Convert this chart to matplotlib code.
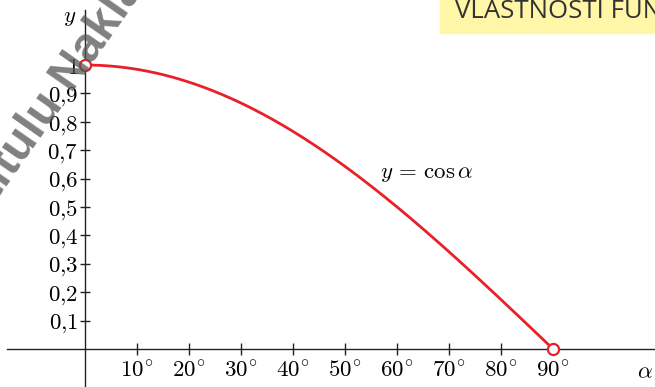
import numpy as np
import matplotlib.pyplot as plt
from matplotlib.patches import Rectangle

plt.rcParams['mathtext.fontset'] = 'cm'

# graph of y = cos(alpha) on 0..90 degrees
alpha_deg = np.linspace(0, 90, 181)
cos_vals = np.cos(np.radians(alpha_deg))

x_ticks = [10, 20, 30, 40, 50, 60, 70, 80, 90]
x_labels = ['$%d^{\\!\\circ}$' % v for v in x_ticks]
y_ticks = [0.1, 0.2, 0.3, 0.4, 0.5, 0.6, 0.7, 0.8, 0.9, 1.0]
y_labels = ['$0{,}1$', '$0{,}2$', '$0{,}3$', '$0{,}4$', '$0{,}5$',
            '$0{,}6$', '$0{,}7$', '$0{,}8$', '$0{,}9$', '$1$']
open_x = [0, 90]
open_y = [1, 0]

fig = plt.figure(figsize=(6.55, 3.87), dpi=100)
ax = fig.add_axes([0, 0, 1, 1])
ax.set_xlim(-16.35, 109.6)
ax.set_ylim(-0.134, 1.229)
ax.axis('off')

axis_col = '#222222'
red = '#e8202a'

# axes lines
ax.plot([-15, 110], [0, 0], color=axis_col, lw=1.0, zorder=2)
ax.plot([0, 0], [-0.14, 1.194], color=axis_col, lw=1.0, zorder=2)

# ticks
ax.plot(x_ticks, [0] * len(x_ticks), ls='none', marker='|', markersize=8,
        color=axis_col, mew=1.0, zorder=2)
ax.plot([0] * len(y_ticks), y_ticks, ls='none', marker='_', markersize=7,
        color=axis_col, mew=1.0, zorder=2)

for v, lab in zip(x_ticks, x_labels):
    ax.text(v, -0.076, lab, ha='center', va='center', fontsize=16.5, color='black')
for v, lab in zip(y_ticks, y_labels):
    ax.text(-1.3, v, lab, ha='right', va='center_baseline', fontsize=16.5, color='black')

ax.text(-2.9, 1.17, '$y$', ha='center', va='center', fontsize=16.5)
ax.text(107.7, -0.08, r'$\alpha$', ha='center', va='center', fontsize=16.5)

# the curve
ax.plot(alpha_deg, cos_vals, color=red, lw=2.0, zorder=3)
ax.plot(open_x, open_y, ls='none', marker='o', markersize=8, mfc='white',
        mec=red, mew=1.6, zorder=4)
ax.text(56.7, 0.623, r'$y\,=\,\cos\alpha$', ha='left', va='center', fontsize=16.5)

# header banner
fig.patches.append(Rectangle((440 / 655, 1 - 33 / 387), 1, 33 / 387,
                             transform=fig.transFigure, color='#fff6a8', zorder=0))
fig.text(455 / 655, 1 - 12 / 387, 'VLASTNOSTI FUNKCÍ', ha='left', va='center',
         fontsize=18.5, color='#333333', family='Open Sans')

# watermark
fig.text(-4 / 655, 1 - 202 / 387, 'titulu Nakladatelství', rotation=55,
         rotation_mode='anchor', ha='left', va='baseline', fontsize=35,
         fontweight='bold', family='Liberation Sans', color='#555555',
         alpha=0.75, zorder=10)

fig.savefig('out.png', dpi=100)
